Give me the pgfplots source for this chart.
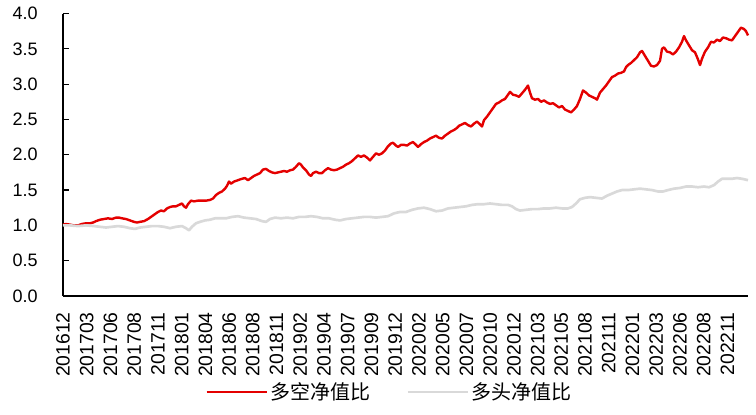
\documentclass[border=0pt]{standalone}
\usepackage{fontspec}
\setmainfont{Liberation Sans}
\newfontfamily\cjk{Noto Sans CJK SC}
\usepackage{pgfplots}
\pgfplotsset{compat=1.18}
\definecolor{myred}{RGB}{228,0,0}
\definecolor{mygray}{RGB}{217,217,217}
\begin{document}
\begin{tikzpicture}
\useasboundingbox (-47.25pt,-88.5pt) rectangle (519.75pt,222pt);
\begin{axis}[
  scale only axis,
  width=513.75pt, height=211.875pt,
  xmin=63, xmax=748, ymin=0, ymax=4,
  axis x line=bottom, axis y line=left,
  axis line style={-, line width=0.9pt, black},
  tick align=inside,
  ytick={0,0.5,...,4},
  major tick length=4.5pt, minor tick length=4.5pt,
  tick style={black, line width=0.9pt},
  /pgf/number format/assume math mode=true,
  yticklabel style={/pgf/number format/fixed, /pgf/number format/fixed zerofill, /pgf/number format/precision=1, font=\fontsize{13.5}{14}\selectfont, inner sep=0pt, anchor=east, xshift=-18.75pt},
  xtick={63,86.73,...,728},
  xticklabels={201612,201703,201706,201708,201711,201801,201804,201806,201808,201811,201902,201904,201907,201909,201912,202002,202005,202007,202010,202012,202103,202105,202108,202111,202201,202203,202206,202208,202211},
  xtick style={draw=none},
  minor xtick={86.33,109.67,...,740},
  minor tick style={black, line width=0.9pt},
  xticklabel style={rotate=90, anchor=east, inner sep=0pt, xshift=-12pt, font=\fontsize{14.5}{15}\selectfont},
  legend columns=2,
  legend style={draw=none, at={(0.4774,-0.340)}, anchor=center, font=\cjk\fontsize{15}{16}\selectfont,
    /tikz/every even column/.append style={column sep=25pt}},
  legend image code/.code={\draw[#1] (0pt,0pt) -- (45pt,0pt);},
  clip=false,
]
\addplot[myred, line width=1.8pt, line join=round] coordinates {
(63,1.01)(66,1.02)(70,1.01)(74,1.00)(78,1.00)(82,1.02)(86,1.03)(90,1.03)(93,1.04)(96,1.06)
(100,1.08)(104,1.09)(108,1.10)(112,1.09)(116,1.11)(119,1.11)(122,1.10)(126,1.09)(130,1.07)(134,1.05)
(137,1.04)(140,1.05)(144,1.06)(148,1.09)(152,1.13)(155,1.16)(158,1.19)(161,1.21)(164,1.20)(167,1.24)
(170,1.26)(173,1.27)(176,1.27)(179,1.29)(182,1.31)(184,1.27)(186,1.25)(188,1.30)(191,1.35)(194,1.34)
(198,1.35)(202,1.35)(206,1.35)(210,1.36)(213,1.38)(216,1.43)(219,1.46)(222,1.48)(225,1.52)(227,1.56)
(229,1.62)(231,1.59)(234,1.62)(238,1.64)(242,1.66)(245,1.67)(248,1.64)(251,1.67)(254,1.70)(257,1.72)
(260,1.74)(263,1.79)(266,1.80)(269,1.77)(272,1.75)(275,1.74)(278,1.75)(281,1.76)(284,1.77)(287,1.76)
(290,1.78)(293,1.79)(296,1.83)(299,1.88)(301,1.86)(303,1.82)(306,1.78)(309,1.72)(311,1.70)(313,1.74)
(316,1.76)(319,1.74)(322,1.74)(325,1.78)(328,1.81)(331,1.79)(334,1.78)(337,1.79)(340,1.81)(343,1.83)
(346,1.86)(349,1.88)(352,1.91)(355,1.95)(358,1.99)(361,1.97)(364,1.99)(367,1.96)(370,1.92)(373,1.97)
(376,2.02)(379,2.00)(382,2.02)(385,2.06)(388,2.12)(391,2.16)(393,2.17)(396,2.13)(398,2.11)(401,2.14)
(404,2.14)(407,2.13)(410,2.16)(413,2.18)(416,2.14)(418,2.11)(421,2.15)(424,2.18)(427,2.20)(430,2.23)
(433,2.25)(436,2.27)(439,2.24)(442,2.23)(445,2.27)(448,2.30)(451,2.33)(454,2.35)(457,2.38)(459,2.41)
(462,2.43)(465,2.45)(468,2.42)(471,2.40)(474,2.44)(477,2.47)(480,2.43)(482,2.40)(484,2.49)(487,2.54)
(490,2.60)(493,2.66)(496,2.72)(499,2.74)(502,2.77)(505,2.79)(508,2.85)(510,2.89)(513,2.85)(516,2.84)
(519,2.82)(522,2.87)(525,2.92)(528,2.98)(530,2.88)(532,2.80)(535,2.78)(538,2.79)(541,2.75)(544,2.77)
(547,2.74)(550,2.72)(553,2.73)(556,2.70)(559,2.67)(562,2.69)(565,2.64)(568,2.62)(571,2.60)(574,2.64)
(577,2.69)(580,2.79)(583,2.91)(586,2.88)(589,2.84)(592,2.82)(595,2.80)(597,2.78)(600,2.88)(603,2.93)
(606,2.98)(609,3.04)(612,3.10)(615,3.12)(618,3.15)(621,3.16)(624,3.18)(626,3.24)(628,3.27)(631,3.30)
(634,3.34)(637,3.38)(640,3.45)(642,3.47)(645,3.40)(648,3.33)(651,3.26)(654,3.25)(657,3.27)(660,3.33)
(662,3.50)(664,3.52)(667,3.46)(670,3.45)(673,3.42)(676,3.46)(679,3.52)(682,3.60)(684,3.68)(686,3.62)
(689,3.55)(692,3.48)(695,3.45)(698,3.35)(700,3.27)(702,3.36)(705,3.46)(708,3.52)(711,3.60)(714,3.59)
(717,3.63)(720,3.61)(723,3.66)(726,3.65)(729,3.63)(732,3.62)(735,3.68)(738,3.74)(741,3.80)(744,3.78)
(746,3.75)(748,3.69)
};
\addlegendentry{多空净值比}
\addplot[mygray, line width=2pt, line join=round] coordinates {
(63,1.00)(70,1.00)(78,0.99)(86,1.00)(94,0.99)(100,0.98)(106,0.97)(112,0.98)(118,0.99)(124,0.98)
(130,0.96)(135,0.95)(140,0.97)(146,0.98)(152,0.99)(158,0.99)(164,0.98)(170,0.96)(176,0.98)(182,0.99)
(186,0.96)(189,0.93)(192,0.98)(196,1.03)(200,1.05)(205,1.07)(210,1.08)(215,1.10)(220,1.10)(226,1.10)
(232,1.12)(238,1.13)(244,1.11)(250,1.10)(256,1.09)(262,1.06)(266,1.05)(270,1.09)(275,1.11)(281,1.10)
(287,1.11)(293,1.10)(299,1.12)(305,1.12)(311,1.13)(317,1.12)(323,1.10)(329,1.10)(335,1.08)(340,1.07)
(346,1.09)(352,1.10)(358,1.11)(364,1.12)(370,1.12)(376,1.11)(382,1.12)(388,1.13)(394,1.17)(400,1.19)
(406,1.19)(412,1.22)(418,1.24)(424,1.25)(430,1.23)(436,1.20)(442,1.21)(448,1.24)(454,1.25)(460,1.26)
(466,1.27)(472,1.29)(478,1.30)(484,1.30)(490,1.31)(496,1.30)(502,1.29)(508,1.29)(512,1.27)(516,1.23)
(520,1.21)(526,1.22)(532,1.23)(538,1.23)(544,1.24)(550,1.24)(556,1.25)(562,1.24)(568,1.24)(572,1.26)
(576,1.31)(580,1.37)(585,1.39)(590,1.40)(596,1.39)(602,1.38)(607,1.42)(612,1.45)(617,1.48)(622,1.50)
(628,1.50)(634,1.51)(640,1.52)(646,1.51)(652,1.50)(658,1.48)(663,1.48)(668,1.50)(674,1.52)(680,1.53)
(686,1.55)(692,1.55)(698,1.54)(704,1.55)(709,1.54)(714,1.57)(718,1.62)(722,1.66)(727,1.66)(732,1.66)
(737,1.67)(742,1.66)(748,1.64)
};
\addlegendentry{多头净值比}
\end{axis}
\end{tikzpicture}
\end{document}
